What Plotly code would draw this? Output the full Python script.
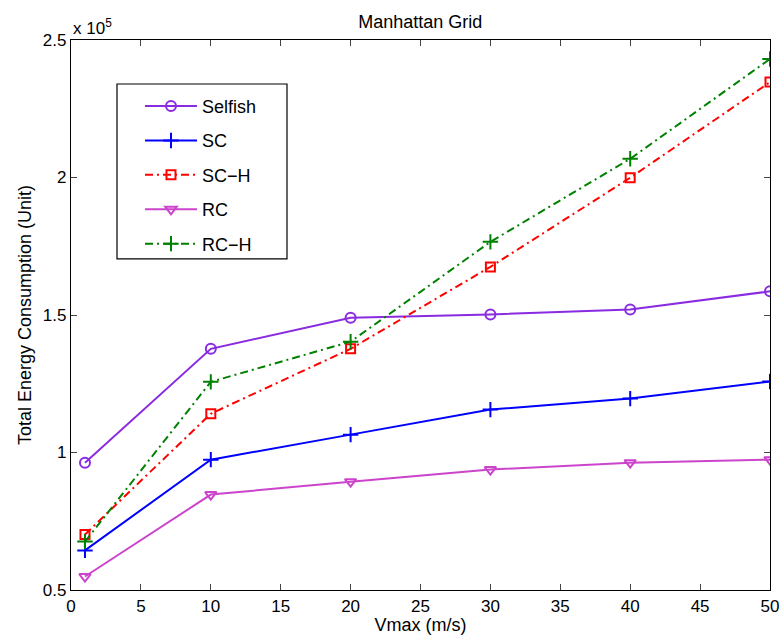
import plotly.graph_objects as go

# Maximum speed (m/s)
vmax = [1, 10, 20, 30, 40, 50]

# Total energy consumption per scheme (units)
selfish = [96300, 137700, 149000, 150200, 152000, 158600]
sc = [64400, 97400, 106500, 115600, 119600, 125800]
sc_h = [70200, 114100, 137700, 167500, 199900, 234700]
rc = [54900, 84700, 89400, 93800, 96300, 97400]
rc_h = [67600, 125700, 140300, 176600, 206800, 243100]

y_ticks = [50000, 100000, 150000, 200000, 250000]
y_tick_text = ["0.5", "1", "1.5", "2", "2.5"]
x_ticks = [0, 5, 10, 15, 20, 25, 30, 35, 40, 45, 50]

DASHDOT = "8px,4px,2px,4px"

series = [
    ("Selfish", selfish, "#8A2BE2", "solid", "circle-open", 10),
    ("SC", sc, "#0000FF", "solid", "cross-thin-open", 11),
    ("SC\u2212H", sc_h, "#FF0000", DASHDOT, "square-open", 9),
    ("RC", rc, "#CC44CC", "solid", "triangle-down-open", 10),
    ("RC\u2212H", rc_h, "#008000", DASHDOT, "cross-thin-open", 11),
]

fig = go.Figure()
for name, vals, color, dash, symbol, msize in series:
    fig.add_trace(go.Scatter(
        x=vmax, y=vals, name=name, mode="lines+markers",
        legendgroup=name,
        line=dict(color=color, width=2, dash=dash),
        marker=dict(symbol=symbol, size=msize,
                    line=dict(color=color, width=2), color=color),
    ))

font_family = "Liberation Sans, Arial, sans-serif"

fig.update_layout(
    width=782, height=640,
    margin=dict(l=71, r=12, t=40, b=50, autoexpand=False),
    paper_bgcolor="white", plot_bgcolor="white",
    font=dict(family=font_family, size=17, color="black"),
    title=dict(text="Manhattan Grid", x=0.5375, xanchor="center",
               y=0.966, yanchor="middle", font=dict(size=18)),
    showlegend=True,
    legend=dict(x=0.0987, y=0.913, xanchor="left", yanchor="top",
                bgcolor="rgba(0,0,0,0)", borderwidth=0,
                tracegroupgap=8, font=dict(size=18), itemwidth=52),
)

# Frame around the legend entries
fig.add_shape(
    type="rect", xref="paper", yref="paper",
    x0=0.0658, x1=0.309, y0=0.602, y1=0.920,
    line=dict(color="black", width=1.2), fillcolor="white", layer="above",
)

fig.update_xaxes(
    range=[0, 50], tickvals=x_ticks, ticks="inside", ticklen=6,
    tickcolor="#444", showline=True, linecolor="black", linewidth=1.2,
    mirror="ticks", showgrid=False, zeroline=False, automargin=False,
    tickfont=dict(size=17),
    title=dict(text="Vmax (m/s)", font=dict(size=18), standoff=3),
)
fig.update_yaxes(
    range=[50000, 250000], tickvals=y_ticks, ticktext=y_tick_text,
    ticks="inside", ticklen=6, tickcolor="#444", showline=True,
    linecolor="black", linewidth=1.2, mirror="ticks", showgrid=False,
    zeroline=False, automargin=False, tickfont=dict(size=17),
    title=dict(text="Total Energy Consumption (Unit)", font=dict(size=18),
               standoff=6),
)

fig.add_annotation(
    text="x 10<sup>5</sup>", xref="paper", yref="paper", x=0.0, y=1.0,
    xanchor="left", yanchor="bottom", showarrow=False,
    font=dict(size=17), yshift=0,
)

fig.write_html("out.html")
